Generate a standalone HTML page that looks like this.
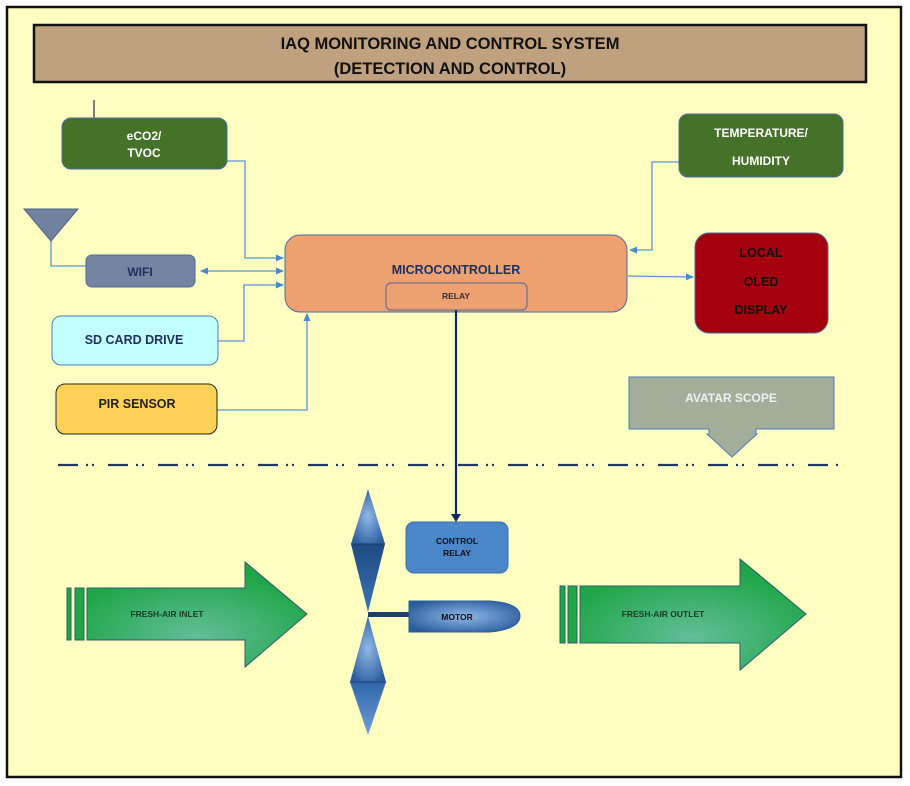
<!DOCTYPE html>
<html><head><meta charset="utf-8"><style>
html,body{margin:0;padding:0;background:#fff;}
svg{display:block;}
text{font-family:"Liberation Sans",sans-serif;font-weight:bold;}
</style></head><body>
<svg width="910" height="786" viewBox="0 0 910 786" xmlns="http://www.w3.org/2000/svg">
<defs>
<radialGradient id="g" cx="50%" cy="70%" r="60%"><stop offset="0" stop-color="#62BE98"/><stop offset="1" stop-color="#1FA648"/></radialGradient>
<radialGradient id="b" cx="50%" cy="50%" r="60%"><stop offset="0" stop-color="#8FB8E6"/><stop offset="1" stop-color="#2A5C9C"/></radialGradient>
<linearGradient id="bl" x1="0" y1="0" x2="0" y2="1"><stop offset="0" stop-color="#2F65A8"/><stop offset="1" stop-color="#6FA0D8"/></linearGradient>
<linearGradient id="dk" x1="0" y1="0" x2="0" y2="1"><stop offset="0" stop-color="#1E4A82"/><stop offset="1" stop-color="#3A74B6"/></linearGradient>
<marker id="a" markerWidth="8" markerHeight="8" refX="7" refY="4" orient="auto" markerUnits="userSpaceOnUse"><path d="M0,0.5 L8,4 L0,7.5z" fill="#4A88D0"/></marker>
<marker id="as" markerWidth="8" markerHeight="8" refX="1" refY="4" orient="auto" markerUnits="userSpaceOnUse"><path d="M8,0.5 L0,4 L8,7.5z" fill="#4A88D0"/></marker>
<marker id="ad" markerWidth="10" markerHeight="10" refX="5" refY="9" orient="auto" markerUnits="userSpaceOnUse"><path d="M0,0 L5,9 L10,0z" fill="#0D2A60" transform="rotate(-90 5 5)"/></marker>
</defs>
<rect x="7" y="7" width="894" height="770" fill="#FFFFC2" stroke="#111" stroke-width="2.5"/>
<rect x="34" y="25" width="832" height="57" fill="#BFA07F" stroke="#111" stroke-width="2.5"/>
<text x="450" y="49" font-size="16.5" text-anchor="middle" fill="#111">IAQ MONITORING AND CONTROL SYSTEM</text>
<text x="450" y="74" font-size="16.5" text-anchor="middle" fill="#111">(DETECTION AND CONTROL)</text>

<!-- connectors -->
<g fill="none" stroke="#5B93D6" stroke-width="1.3">
<polyline points="227,161 245,161 245,258 283,258" marker-end="url(#a)"/>
<line x1="201" y1="271" x2="283" y2="271" marker-start="url(#as)" marker-end="url(#a)"/>
<polyline points="218,341 244,341 244,285 283,285" marker-end="url(#a)"/>
<polyline points="217,410 307,410 307,314" marker-end="url(#a)"/>
<polyline points="679,162 652,162 652,250 630,250" marker-end="url(#a)"/>
<line x1="628" y1="276" x2="693" y2="277" marker-end="url(#a)"/>
<polyline points="51,240 51,266 86,266"/>
</g>
<line x1="94" y1="100" x2="94" y2="123" stroke="#5C4A6A" stroke-width="1.5"/>
<path d="M24,209 L78,209 L51,241z" fill="#7082A0" stroke="#4E6288"/>

<rect x="62" y="118" width="165" height="51" rx="9" fill="#467129" stroke="#4C6C9C"/>
<text x="144" y="140" font-size="12" text-anchor="middle" fill="#fff">eCO2/</text>
<text x="144" y="157" font-size="12" text-anchor="middle" fill="#fff">TVOC</text>
<rect x="86" y="255" width="109" height="32" rx="6" fill="#7385A0" stroke="#4C6C9C"/>
<text x="140" y="276" font-size="12" text-anchor="middle" fill="#1F3060">WIFI</text>
<rect x="52" y="316" width="166" height="49" rx="9" fill="#C2FFFF" stroke="#4C7CC0"/>
<text x="134" y="344" font-size="12.5" text-anchor="middle" fill="#1F3060">SD CARD DRIVE</text>
<rect x="56" y="384" width="161" height="50" rx="9" fill="#FFD257" stroke="#222"/>
<text x="137" y="408" font-size="12.5" text-anchor="middle" fill="#222">PIR SENSOR</text>

<rect x="285" y="235" width="342" height="77" rx="15" fill="#EDA070" stroke="#4C6C9C"/>
<text x="456" y="274" font-size="12.5" text-anchor="middle" fill="#1F3060">MICROCONTROLLER</text>
<rect x="386" y="283" width="141" height="27" rx="5" fill="#EDA070" stroke="#4C6C9C"/>
<text x="456" y="299" font-size="8.5" text-anchor="middle" fill="#333">RELAY</text>

<rect x="679" y="114" width="164" height="63" rx="9" fill="#467129" stroke="#4C6C9C"/>
<text x="761" y="137" font-size="12" text-anchor="middle" fill="#fff">TEMPERATURE/</text>
<text x="761" y="165" font-size="12" text-anchor="middle" fill="#fff">HUMIDITY</text>
<rect x="695" y="233" width="133" height="100" rx="14" fill="#A5000E" stroke="#4C6C9C"/>
<text x="761" y="257" font-size="12.5" text-anchor="middle" fill="#111">LOCAL</text>
<text x="761" y="286" font-size="12.5" text-anchor="middle" fill="#111">OLED</text>
<text x="761" y="314" font-size="12.5" text-anchor="middle" fill="#111">DISPLAY</text>

<path d="M629,377 L834,377 L834,429 L756,429 L756,434 L757,434 L732,457 L707,434 L709,434 L709,429 L629,429z" fill="#A2AD9A" stroke="#4C7CC0"/>
<text x="731" y="402" font-size="12" text-anchor="middle" fill="#EEF2EE">AVATAR SCOPE</text>

<line x1="58" y1="465" x2="840" y2="465" stroke="#1F3864" stroke-width="2.2" stroke-dasharray="20 8 2 4 2 14"/>

<line x1="456" y1="310" x2="456" y2="516" stroke="#0D2A60" stroke-width="2.2"/>
<path d="M451,514 L461,514 L456,522z" fill="#0D2A60"/>
<rect x="406" y="522" width="102" height="51" rx="8" fill="#4A86C8" stroke="#3A6EAE"/>
<text x="457" y="544" font-size="8.5" text-anchor="middle" fill="#111">CONTROL</text>
<text x="457" y="556" font-size="8.5" text-anchor="middle" fill="#111">RELAY</text>

<!-- fan -->
<path d="M368,489 L385,544 L351,544z" fill="url(#b)"/>
<path d="M351,544 L385,544 L368,612z" fill="url(#dk)"/>
<path d="M368,616 L386,682 L350,682z" fill="url(#b)"/>
<path d="M350,682 L386,682 L368,735z" fill="url(#bl)"/>
<line x1="351" y1="544" x2="385" y2="544" stroke="#1E3E6A"/>
<line x1="350" y1="682" x2="386" y2="682" stroke="#1E3E6A"/>
<rect x="368" y="612" width="42" height="5" fill="#1E3E6A"/>
<path d="M409,601 L490,601 Q520,603 520,616 Q520,629 490,632 L409,632z" fill="url(#b)" stroke="#2A5C9C"/>
<text x="457" y="620" font-size="8.5" text-anchor="middle" fill="#111">MOTOR</text>

<!-- inlet -->
<rect x="67" y="588" width="4" height="52" fill="#1FA648" stroke="#2E5C6A"/>
<rect x="75" y="588" width="9" height="52" fill="#1FA648" stroke="#2E5C6A"/>
<path d="M87,588 L245,588 L245,562 L307,614 L245,667 L245,640 L87,640z" fill="url(#g)" stroke="#2E5C6A"/>
<text x="167" y="617" font-size="8.5" text-anchor="middle" fill="#1A3A2A">FRESH-AIR INLET</text>
<!-- outlet -->
<rect x="560" y="586" width="5" height="57" fill="#1FA648" stroke="#2E5C6A"/>
<rect x="568" y="586" width="9" height="57" fill="#1FA648" stroke="#2E5C6A"/>
<path d="M580,586 L740,586 L740,559 L806,614 L740,670 L740,643 L580,643z" fill="url(#g)" stroke="#2E5C6A"/>
<text x="663" y="617" font-size="8.5" text-anchor="middle" fill="#1A3A2A">FRESH-AIR OUTLET</text>
</svg>
</body></html>
